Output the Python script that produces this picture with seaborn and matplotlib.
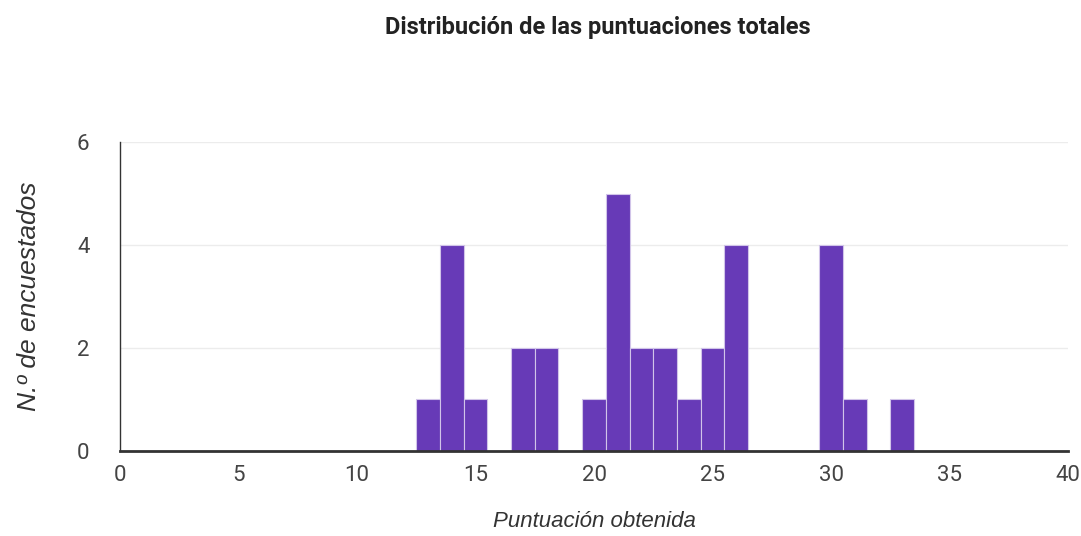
import matplotlib
matplotlib.use("Agg")
import matplotlib.pyplot as plt
import numpy as np
import pandas as pd
import seaborn as sns

# puntuaciones y número de encuestados
puntuaciones = [13, 14, 15, 17, 18, 20, 21, 22, 23, 24, 25, 26, 30, 31, 33]
encuestados = [1, 4, 1, 2, 2, 1, 5, 2, 2, 1, 2, 4, 4, 1, 1]
xticks = [0, 5, 10, 15, 20, 25, 30, 35, 40]
yticks = [0, 2, 4, 6]

sns.set_style("white")
plt.rcParams['font.family'] = ['Liberation Sans Narrow', 'Roboto', 'DejaVu Sans']

df = pd.DataFrame({'puntuacion': puntuaciones, 'n': encuestados})

fig = plt.figure(figsize=(10.81, 5.36), dpi=100)
ax = fig.add_axes([0.111, 0.1586, 0.877, 0.5764])

sns.histplot(data=df, x='puntuacion', weights='n', discrete=True,
             color='#673ab7', alpha=1, edgecolor='#d1c4e9', linewidth=0.8, ax=ax)

ax.set_xlim(0, 40)
ax.set_ylim(0, 6)
ax.set_xticks(xticks)
ax.set_yticks(yticks)
ax.yaxis.grid(True, color='#ececec', linewidth=1)
ax.set_axisbelow(True)
for s in ['top', 'right']:
    ax.spines[s].set_visible(False)
ax.spines['left'].set_color('#333333')
ax.spines['left'].set_linewidth(1)
ax.spines['bottom'].set_color('#333333')
ax.spines['bottom'].set_linewidth(2)
ax.tick_params(length=0, labelsize=16, labelcolor='#444444')
ax.tick_params(axis='y', pad=22)
ax.tick_params(axis='x', pad=10)

ax.set_xlabel('Puntuación obtenida', fontsize=16, style='italic', color='#333333',
              labelpad=18, family=['Liberation Sans', 'DejaVu Sans'])
ax.set_ylabel('N.º de encuestados', fontsize=19, style='italic', color='#333333',
              labelpad=26, family=['Liberation Sans', 'DejaVu Sans'])
fig.suptitle('Distribución de las puntuaciones totales', x=0.553, y=0.97,
             fontsize=17, fontweight='bold', color='#222222')

fig.savefig('out.png', dpi=100)
